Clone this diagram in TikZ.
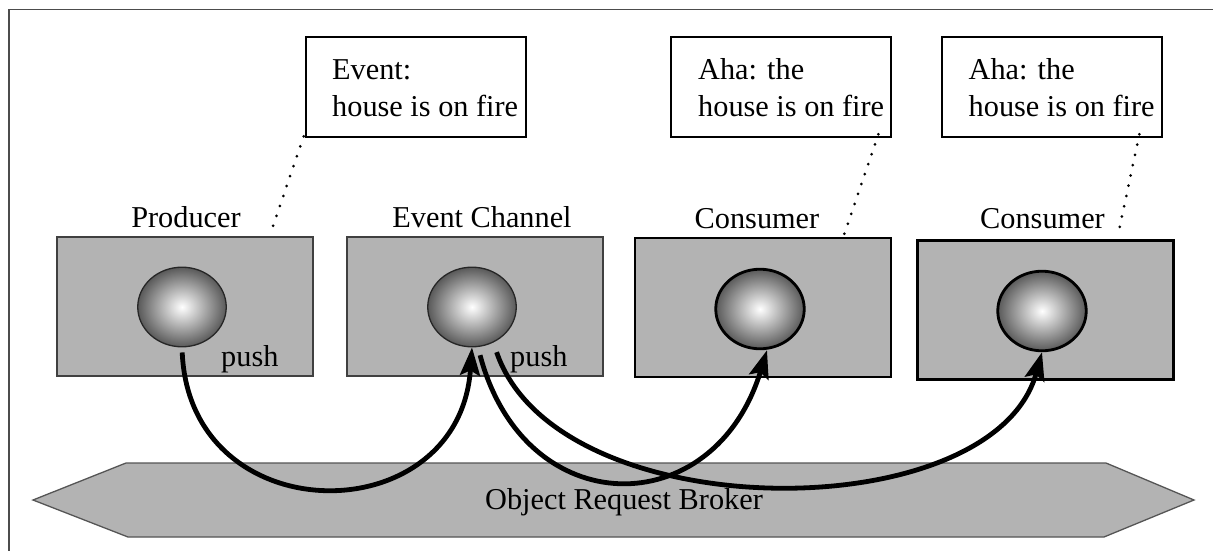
\documentclass[tikz,border=0pt]{standalone}
\usepackage{fontspec}
\setmainfont{Liberation Serif}
\usetikzlibrary{arrows.meta,shapes.geometric}
\definecolor{boxgray}{HTML}{B3B3B3}
\definecolor{edgegray}{HTML}{555555}
\tikzset{
  lbl/.style={anchor=base,inner sep=0pt,font=\fontsize{30.3}{36}\selectfont},
  lblw/.style={anchor=base west,inner sep=0pt,font=\fontsize{30.3}{36}\selectfont},
  notebox/.style={draw=black,line width=2.7pt,minimum width=220pt,minimum height=100pt,inner sep=0pt},
  objthin/.style={draw=black!75,fill=boxgray,line width=1.3pt,minimum width=256pt,minimum height=139pt,inner sep=0pt},
  objthick/.style={draw=black,fill=boxgray,line width=2.8pt,minimum width=256pt,minimum height=139pt,inner sep=0pt},
  spherethin/.style={ellipse,draw=black!85,line width=1.3pt,inner color=white,outer color=black!65,minimum width=88.5pt,minimum height=79.6pt,inner sep=0pt},
  spherethick/.style={ellipse,draw=black,line width=2.8pt,inner color=white,outer color=black!65,minimum width=88.5pt,minimum height=79.6pt,inner sep=0pt},
  pusharrow/.style={line width=4.8pt,-{Stealth[length=28pt,width=20pt,inset=5pt]}},
  dotline/.style={line width=3pt,line cap=round,dash pattern=on 0pt off 10.5pt},
}
\begin{document}
\begin{tikzpicture}[x=1pt,y=-1pt]
\useasboundingbox (0,0) rectangle (1213,551);
% frame
\draw[black!70,line width=1.4pt] (9,551) -- (9,9.5) -- (1213,9.5);
% ORB
\draw[edgegray,fill=boxgray,line width=1.3pt] (33,500) -- (126,463) -- (1106,463) -- (1194,500) -- (1104,537) -- (128,537) -- cycle;
% object boxes
\node[objthin] (pbox) at (185,306.5) {};
\node[objthin] (ebox) at (475,306.5) {};
\node[objthick] (c1box) at (763,307.5) {};
\node[objthick] (c2box) at (1045.5,310) {};
% spheres
\node[spherethin] (ps) at (182,307) {};
\node[spherethin] (es) at (472,307) {};
\node[spherethick] (c1s) at (760,309) {};
\node[spherethick] (c2s) at (1042,311) {};
% arrows
\draw[pusharrow,shorten <=5pt] (ps.south) .. controls (190,534) and (459,534) .. (es.south);
\draw[pusharrow,shorten <=8pt] ([xshift=6pt]es.south) .. controls (525,524) and (714,524) .. ([xshift=7pt]c1s.south);
\draw[pusharrow,shorten <=5pt] ([xshift=23pt]es.south) .. controls (557,530) and (993,530) .. (c2s.south);
% labels
\node[lbl] (lp) at (186,227) {Producer};
\node[lbl] (le) at (482,227) {Event Channel};
\node[lbl] (lc1) at (757,228.5) {Consumer};
\node[lbl] (lc2) at (1042.5,228.5) {Consumer};
\node[lblw] (pp) at (221,366.5) {push};
\node[lblw] (ep) at (510,366.5) {push};
\node[lbl] (orb) at (624,509.5) {Object Request Broker};
% notes
\node[notebox] (n1) at (416,87) {};
\node[notebox] (n2) at (781,87) {};
\node[notebox] (n3) at (1052,87) {};
\node[lblw] (t1a) at (332,80) {Event:};
\node[lblw] (t1b) at (332,116) {house is on fire};
\node[lblw] (t2a) at (698,80) {Aha: the};
\node[lblw] (t2b) at (698,116) {house is on fire};
\node[lblw] (t3a) at (968.5,80) {Aha: the};
\node[lblw] (t3b) at (968.5,116) {house is on fire};
% dotted leaders
\coordinate (d1) at (271,232);
\coordinate (d2) at (844,235);
\coordinate (d3) at (1118,235);
\draw[dotline] ([shift={(-1pt,2pt)}]n1.south west) -- (d1);
\draw[dotline] ([xshift=-14pt,yshift=4pt]n2.south east) -- (d2);
\draw[dotline] ([xshift=-24pt,yshift=4pt]n3.south east) -- (d3);
\end{tikzpicture}
\end{document}
